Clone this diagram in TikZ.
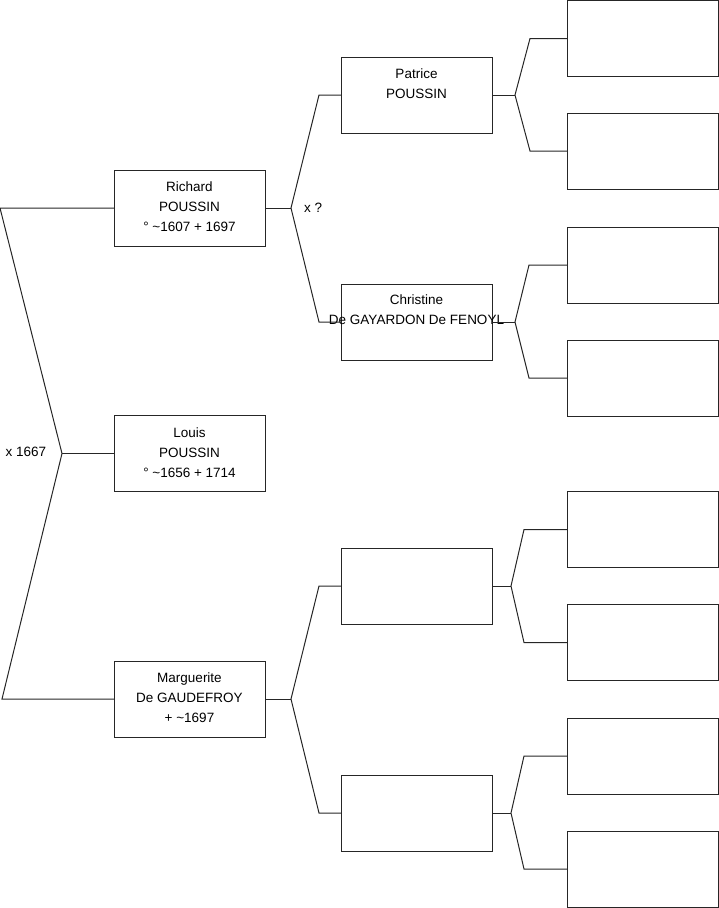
\documentclass[tikz,border=0pt]{standalone}
\usepackage{fontspec}
\setmainfont{Liberation Sans}
\begin{document}
\begin{tikzpicture}[x=1pt,y=-1pt,
  box/.style={draw=black!85,line width=1pt,minimum width=151pt,minimum height=76pt,inner sep=0pt,outer sep=0pt},
  txt/.style={font=\fontsize{13.5}{20}\selectfont,align=center,inner sep=0pt},
  wire/.style={draw=black!85,line width=1pt,line join=miter}]
\useasboundingbox (0,0) rectangle (719,908);
% generation 1
\node[box] (ric) at (189.5,208) {};
\node[box] (lou) at (189.5,453.5) {};
\node[box] (mar) at (189.5,699) {};
% generation 2
\node[box] (pat) at (416.5,95) {};
\node[box] (chr) at (416.5,322) {};
\node[box] (pc) at (416.5,586) {};
\node[box] (pd) at (416.5,813) {};
% generation 3
\node[box] (q1) at (643,38.5) {};
\node[box] (q2) at (643,151) {};
\node[box] (q3) at (643,265) {};
\node[box] (q4) at (643,378) {};
\node[box] (q5) at (643,529.5) {};
\node[box] (q6) at (643,642.5) {};
\node[box] (q7) at (643,756) {};
\node[box] (q8) at (643,869) {};
% texts
\node[txt] (tric) at ([yshift=1pt]ric.center) {Richard\\POUSSIN\\° \textasciitilde1607 + 1697};
\node[txt] (tlou) at ([yshift=1pt]lou.center) {Louis\\POUSSIN\\° \textasciitilde1656 + 1714};
\node[txt] (tmar) at ([yshift=1pt]mar.center) {Marguerite\\De GAUDEFROY\\+ \textasciitilde1697};
\node[txt] (tpat) at ([yshift=11pt]pat.center) {Patrice\\POUSSIN};
\node[txt] (tchr) at ([yshift=12pt]chr.center) {Christine\\De GAYARDON De FENOYL};
\node[txt] (m1) at (26,451.5) {x 1667};
\node[txt,anchor=west] (m2) at (304,207.5) {x ?};
% junction coordinates
\coordinate (t0) at (0,208);
\coordinate (j0) at (62,453.5);
\coordinate (b0) at (2,699);
\coordinate (j1) at (291,208);
\coordinate (u1) at (319,95);
\coordinate (d1) at (319,322);
\coordinate (j2) at (291,699);
\coordinate (u2) at (319,586);
\coordinate (d2) at (319,813);
\coordinate (ja) at (515,95);
\coordinate (ua) at (530,38.5);
\coordinate (da) at (530,151);
\coordinate (jb) at (515,322);
\coordinate (ub) at (529,265);
\coordinate (db) at (529,378);
\coordinate (jc) at (511,586);
\coordinate (uc) at (524,529.5);
\coordinate (dc) at (524,642.5);
\coordinate (jd) at (511,813);
\coordinate (ud) at (524,756);
\coordinate (dd) at (524,869);
% connectors
\draw[wire] (ric.west) -- (t0) -- (j0) -- (b0) -- (mar.west);
\draw[wire] (j0) -- (lou.west);
\draw[wire] (ric.east) -- (j1);
\draw[wire] (pat.west) -- (u1) -- (j1) -- (d1) -- (chr.west);
\draw[wire] (mar.east) -- (j2);
\draw[wire] (pc.west) -- (u2) -- (j2) -- (d2) -- (pd.west);
\draw[wire] (pat.east) -- (ja);
\draw[wire] (q1.west) -- (ua) -- (ja) -- (da) -- (q2.west);
\draw[wire] (chr.east) -- (jb);
\draw[wire] (q3.west) -- (ub) -- (jb) -- (db) -- (q4.west);
\draw[wire] (pc.east) -- (jc);
\draw[wire] (q5.west) -- (uc) -- (jc) -- (dc) -- (q6.west);
\draw[wire] (pd.east) -- (jd);
\draw[wire] (q7.west) -- (ud) -- (jd) -- (dd) -- (q8.west);
\end{tikzpicture}
\end{document}
